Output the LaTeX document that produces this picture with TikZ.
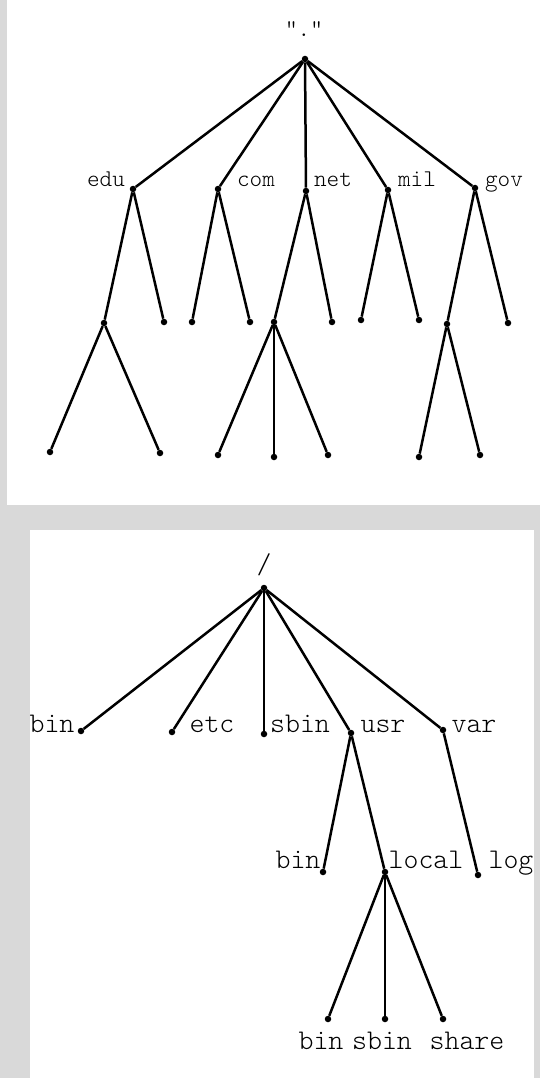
\documentclass[tikz,border=0pt]{standalone}
\usetikzlibrary{positioning}
\definecolor{pagegray}{RGB}{217,217,217}

\begin{document}
\begin{tikzpicture}[x=1pt,y=-1pt]
\tikzset{
  DT/.style={circle,fill=black,inner sep=0pt,minimum size=6.5pt},
  BR/.style={line width=2.5pt,black},
  LT/.style={font=\fontsize{24}{24}\ttfamily\fontseries{l}\selectfont,anchor=base,inner sep=0pt},
  LB/.style={font=\fontsize{28.5}{28.5}\ttfamily\fontseries{l}\selectfont,anchor=base,inner sep=0pt},
}
\useasboundingbox (0,0) rectangle (540,1078);
\fill[pagegray] (0,0) rectangle (540,1078);
\fill[white] (7,0) rectangle (540,505);
\fill[white] (30,530) rectangle (534,1078);

% domain tree
\node[DT](dns) at (305,59){};
\node[LT](dnsl) at (304,37){"."};

\node[DT](edu) at (133,189){};
\node[DT](com) at (218,189){};
\node[DT](net) at (306,191){};
\node[DT](mil) at (388,190){};
\node[DT](gov) at (475,188){};
\node[LT](edul) at (106,186){edu};
\node[LT](coml) at (256,186){com};
\node[LT](netl) at (333,186){net};
\node[LT](mill) at (417,186){mil};
\node[LT](govl) at (504,186){gov};

\node[DT](edua) at (104,323){};
\node[DT](edub) at (164,322){};
\node[DT](coma) at (192,322){};
\node[DT](comb) at (250,322){};
\node[DT](neta) at (274,322){};
\node[DT](netb) at (332,322){};
\node[DT](mila) at (361,320){};
\node[DT](milb) at (419,320){};
\node[DT](gova) at (447,324){};
\node[DT](govb) at (508,323){};

\node[DT](eduaa) at (50,452){};
\node[DT](eduab) at (160,453){};
\node[DT](netaa) at (218,455){};
\node[DT](netab) at (274,457){};
\node[DT](netac) at (328,455){};
\node[DT](govaa) at (419,457){};
\node[DT](govab) at (480,455){};

\foreach \c in {edu,com,net,mil,gov}{\draw[BR](dns)--(\c);}
\foreach \p/\c in {edu/edua,edu/edub,com/coma,com/comb,net/neta,net/netb,
                   mil/mila,mil/milb,gov/gova,gov/govb,
                   edua/eduaa,edua/eduab,neta/netaa,neta/netab,neta/netac,
                   gova/govaa,gova/govab}{\draw[BR](\p)--(\c);}

% file system tree
\node[DT](root) at (264,588){};
\node[LB](rootl) at (264,573){/};

\node[DT](bin)  at (81,731){};
\node[DT](etc)  at (172,732){};
\node[DT](sbin) at (264,734){};
\node[DT](usr)  at (351,733){};
\node[DT](var)  at (443,730){};
\node[LB](binl)  at (52,732){bin};
\node[LB](etcl)  at (212,732){etc};
\node[LB](sbinl) at (300,732){sbin};
\node[LB](usrl)  at (383,732){usr};
\node[LB](varl)  at (474,732){var};

\node[DT](ubin)  at (323,872){};
\node[DT](local) at (385,872){};
\node[DT](log)   at (478,875){};
\node[LB](ubinl)  at (298,868){bin};
\node[LB](locall) at (426,868){local};
\node[LB](logl)   at (511,868){log};

\node[DT](lbin)   at (328,1019){};
\node[DT](lsbin)  at (385,1019){};
\node[DT](lshare) at (443,1019){};
\node[LB](lbinl)   at (321,1049){bin};
\node[LB](lsbinl)  at (382,1049){sbin};
\node[LB](lsharel) at (467,1049){share};

\foreach \c in {bin,etc,sbin,usr,var}{\draw[BR](root)--(\c);}
\foreach \p/\c in {usr/ubin,usr/local,var/log,
                   local/lbin,local/lsbin,local/lshare}{\draw[BR](\p)--(\c);}

\end{tikzpicture}
\end{document}
